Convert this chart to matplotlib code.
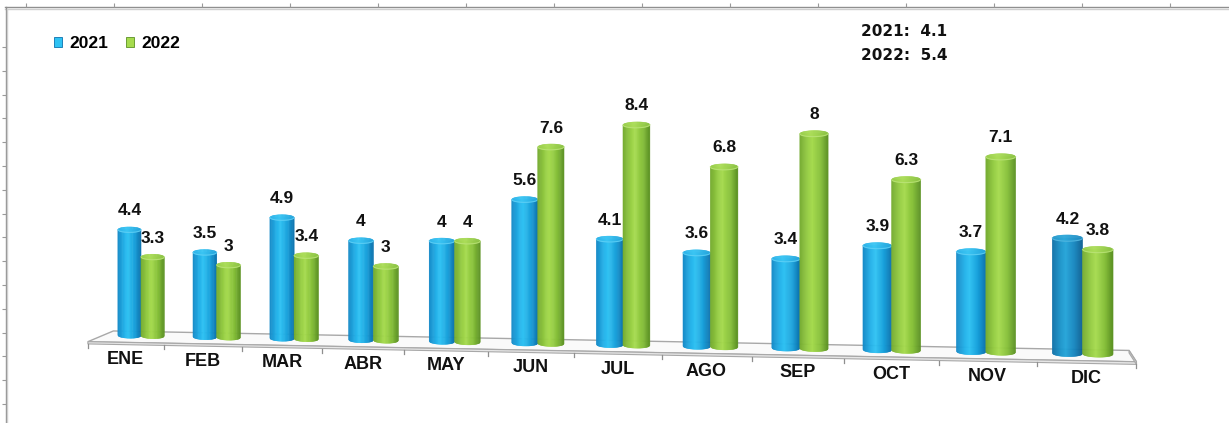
import numpy as np
import matplotlib
matplotlib.use("Agg")
import matplotlib.pyplot as plt
from matplotlib.transforms import Transform
from matplotlib.collections import PolyCollection
from matplotlib.colors import LinearSegmentedColormap, to_rgb
from matplotlib.patches import Patch, Polygon

# ---------------------------------------------------------------- data
months = ["ENE", "FEB", "MAR", "ABR", "MAY", "JUN",
          "JUL", "AGO", "SEP", "OCT", "NOV", "DIC"]
series_names = ["2021", "2022"]
values_2021 = [4.4, 3.5, 4.9, 4.0, 4.0, 5.6, 4.1, 3.6, 3.4, 3.9, 3.7, 4.2]
values_2022 = [3.3, 3.0, 3.4, 3.0, 4.0, 7.6, 8.4, 6.8, 8.0, 6.3, 7.1, 3.8]

# ---------------------------------------------------------------- style
W, H = 1229, 423
LABEL_FONT = "Liberation Sans"
BLUE_STOPS = ["#1488C6", "#22B2EA", "#2EC2F3", "#179FDA", "#0B72AE"]
GREEN_STOPS = ["#72A92E", "#96CE42", "#A6DB4E", "#84BF37", "#5B9123"]
DARK_BLUE_STOPS = ["#0F6FA6", "#1A96CC", "#21A3D8", "#1283BD", "#0A5F92"]
HIGHLIGHT_2021 = "DIC"          # month whose 2021 cylinder is drawn darker
BAR_W = 0.31                    # width of one cylinder in category units
CAP_RY = 0.11                   # half-height of the elliptical caps


def make_cmap(stops):
    return LinearSegmentedColormap.from_list(
        "c", list(zip([0.0, 0.3, 0.45, 0.75, 1.0], stops)))


def lighten(c, f):
    r, g, b = to_rgb(c)
    return (r + (1 - r) * f, g + (1 - g) * f, b + (1 - b) * f)


# -------------------------------------------- perspective of the 3-D scene
class Perspective(Transform):
    """Projects (category, value) points lying at a given depth onto the
    pixel plane of the figure axes (y pointing down)."""
    input_dims = output_dims = 2
    is_separable = False
    has_inverse = False

    A, C, G = 73.2, 141.0, -0.01145
    D, E, F = -2.41, -24.7, 335.7
    VX, VY, K = 900.0, 0.0, 0.02

    def __init__(self, z=0.0):
        super().__init__()
        self._z = z

    def transform_non_affine(self, values):
        xy = np.atleast_2d(np.asarray(values, dtype=float))
        x, v = xy[:, 0], xy[:, 1]
        w = 1.0 + self.G * x
        X = (self.A * x + self.C) / w
        Y = (self.D * x + self.E * v + self.F) / w
        s = 1.0 + self.K * self._z
        X = self.VX + (X - self.VX) * s
        Y = self.VY + (Y - self.VY) * s
        return np.column_stack([X, Y])


fig = plt.figure(figsize=(W / 100, H / 100), dpi=100)
ax = fig.add_axes([0, 0, 1, 1])
ax.set_xlim(0, W)
ax.set_ylim(H, 0)
ax.axis("off")

p_mid, p_front, p_back = Perspective(0.0), Perspective(1.0), Perspective(-0.6)
mid = p_mid + ax.transData
front = p_front + ax.transData


def proj(p, x, v):
    """Scene point expressed in the pixel coordinates of ax."""
    return p.transform_non_affine([(x, v)])[0]


# ---------------------------------------------------------------- frame
ax.plot([5, W], [7.5, 7.5], color="#8f8f8f", lw=1.0, zorder=1)
ax.plot([5, W], [9.0, 9.0], color="#cfcfcf", lw=1.0, zorder=1)
ax.plot([5.5, 5.5], [7.5, H], color="#8f8f8f", lw=1.0, zorder=1)
ax.plot([7.0, 7.0], [9.0, H], color="#cfcfcf", lw=1.0, zorder=1)
ax.vlines(np.arange(26, W, 88), 3, 7.5, color="#9a9a9a", lw=0.8)
ax.hlines(np.arange(47, H, 23.8), 1.5, 5.5, color="#9a9a9a", lw=0.8)

# ---------------------------------------------------------------- floor
n = len(months)
x_lo, x_hi = -0.5, n - 0.5
fl, thick = 0.0, -0.09
top_face = [proj(p_back, x_lo, fl), proj(p_back, x_hi, fl),
            proj(p_front, x_hi, fl), proj(p_front, x_lo, fl)]
ax.add_patch(Polygon(top_face, closed=True, facecolor="#fafafa",
                     edgecolor="#a8a8a8", lw=1.0, zorder=2))
face = [proj(p_front, x_lo, fl), proj(p_front, x_hi, fl),
        proj(p_front, x_hi, thick), proj(p_front, x_lo, thick)]
ax.add_patch(Polygon(face, closed=True, facecolor="#e6e6e6",
                     edgecolor="#a8a8a8", lw=0.8, zorder=2))
side = [proj(p_back, x_hi, fl), proj(p_front, x_hi, fl),
        proj(p_front, x_hi, thick), proj(p_back, x_hi, thick)]
ax.add_patch(Polygon(side, closed=True, facecolor="#dcdcdc",
                     edgecolor="#a8a8a8", lw=0.8, zorder=2))
for b in np.arange(x_lo, x_hi + 0.01, 1.0):
    p = proj(p_front, b, thick)
    ax.plot([p[0], p[0]], [p[1], p[1] + 4], color="#8f8f8f", lw=0.9,
            zorder=2)


# ---------------------------------------------------------------- cylinders
def cylinder(x0, x1, v, stops, zorder, nstrip=30):
    cmap = make_cmap(stops)
    cap_cmap = make_cmap([lighten(c, 0.06) for c in stops])
    edges = np.linspace(-1.0, 1.0, nstrip + 1)
    top = v - CAP_RY
    body, body_c, cap, cap_c = [], [], [], []
    for ua, ub in zip(edges[:-1], edges[1:]):
        xa = x0 + (ua + 1) / 2 * (x1 - x0)
        xb = x0 + (ub + 1) / 2 * (x1 - x0)
        sa, sb = np.sqrt(1 - ua ** 2), np.sqrt(1 - ub ** 2)
        body.append([(xa, -CAP_RY * sa), (xb, -CAP_RY * sb),
                     (xb, top), (xa, top)])
        cap.append([(xa, top - CAP_RY * sa), (xb, top - CAP_RY * sb),
                    (xb, top + CAP_RY * sb), (xa, top + CAP_RY * sa)])
        t = (ua + ub) / 4 + 0.5
        body_c.append(cmap(t))
        cap_c.append(cap_cmap(0.25 + 0.5 * t))
    ax.add_collection(PolyCollection(body, facecolors=body_c,
                                     edgecolors=body_c, linewidths=0.4,
                                     transform=mid, zorder=zorder))
    ax.add_collection(PolyCollection(cap, facecolors=cap_c,
                                     edgecolors=cap_c, linewidths=0.4,
                                     transform=mid, zorder=zorder + 0.1))
    # soft rim along the front edge of the top cap
    u = np.linspace(-1, 1, 40)
    rim_x = x0 + (u + 1) / 2 * (x1 - x0)
    rim_y = top - CAP_RY * np.sqrt(1 - u ** 2)
    ax.plot(rim_x, rim_y, color=lighten(stops[2], 0.25), lw=0.8,
            alpha=0.8, transform=mid, zorder=zorder + 0.2)


def value_label(xc, v):
    ax.annotate(f"{v:g}", xy=(xc, v), xycoords=mid,
                xytext=(0, 16), textcoords="offset pixels",
                ha="center", va="center", fontsize=12.5, fontweight="bold",
                family=LABEL_FONT, color="#111111", zorder=10)


for i, (m, a, b) in enumerate(zip(months, values_2021, values_2022)):
    stops_a = DARK_BLUE_STOPS if m == HIGHLIGHT_2021 else BLUE_STOPS
    cylinder(i - BAR_W, i, a, stops_a, zorder=3 + i * 0.5)
    cylinder(i, i + BAR_W, b, GREEN_STOPS, zorder=3.25 + i * 0.5)
    value_label(i - BAR_W / 2, a)
    value_label(i + BAR_W / 2, b)
    ax.annotate(m, xy=(i, thick), xycoords=front,
                xytext=(0, -15), textcoords="offset pixels",
                ha="center", va="center", fontsize=13, fontweight="bold",
                family=LABEL_FONT, color="#111111")

# ---------------------------------------------------------------- legend
handles = [Patch(facecolor=BLUE_STOPS[2], edgecolor=BLUE_STOPS[4], lw=0.6),
           Patch(facecolor=GREEN_STOPS[2], edgecolor=GREEN_STOPS[4], lw=0.6)]
ax.legend(handles, series_names, loc="center left",
          bbox_to_anchor=(45, 44), bbox_transform=ax.transData,
          ncol=2, frameon=False, borderpad=0, handlelength=0.5,
          handleheight=0.5, handletextpad=0.4, columnspacing=1.0,
          prop={"family": LABEL_FONT, "weight": "bold", "size": 12.5})

# ---------------------------------------------------------------- yearly averages
for k, (name, vals) in enumerate(zip(series_names, [values_2021, values_2022])):
    ax.text(861, 31 + 24 * k, f"{name}:  {np.mean(vals):.1f}",
            ha="left", va="center", fontsize=11, fontweight="bold",
            family="DejaVu Sans", color="#111111")

fig.savefig("out.png", dpi=100)
